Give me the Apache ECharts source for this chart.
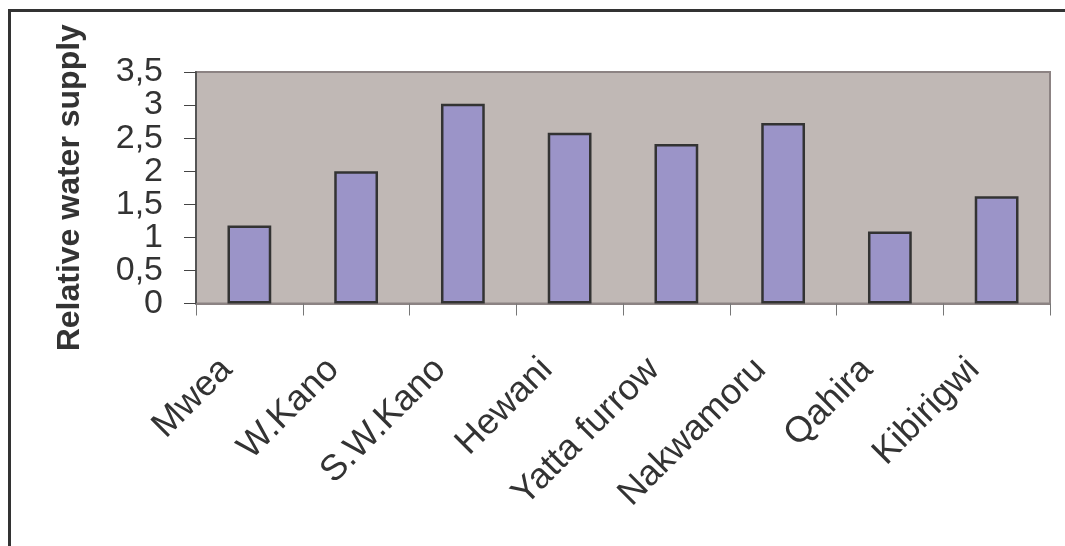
<!DOCTYPE html>
<html>
<head>
<meta charset="utf-8">
<title>Relative water supply</title>
<script src="https://cdn.jsdelivr.net/npm/echarts@6/dist/echarts.min.js"></script>
<style>
  html, body { margin: 0; padding: 0; background: #ffffff; }
  #chart { width: 1065px; height: 546px; }
</style>
</head>
<body>
<div id="chart"></div>
<script>
// Irrigation schemes along the category axis
const schemes = ['Mwea', 'W.Kano', 'S.W.Kano', 'Hewani', 'Yatta furrow', 'Nakwamoru', 'Qahira', 'Kibirigwi'];
// Relative water supply per scheme
const rws = [1.18, 2.0, 3.02, 2.58, 2.41, 2.73, 1.09, 1.62];
// Value axis range
const yMin = 0;
const yMax = 3.5;
const yStep = 0.5;

const font = '"Liberation Sans", Arial, sans-serif';
const chart = echarts.init(document.getElementById('chart'), null, { renderer: 'canvas' });

// The tick labels sit closer together than their font height, so whole-number
// and half-step labels are carried by two stacked copies of the value axis.
const fmt = v => String(v).replace('.', ',');
const isWhole = v => Math.abs(v - Math.round(v)) < 1e-9;

const labelBase = {
  margin: 33,
  fontSize: 34,
  fontFamily: font,
  color: '#333333',
  showMinLabel: true,
  showMaxLabel: true,
  hideOverlap: false
};

chart.setOption({
  backgroundColor: '#ffffff',
  animation: false,
  graphic: [
    // frame lines along the top and left edges
    { type: 'line', silent: true, shape: { x1: 9, y1: 10.5, x2: 1065, y2: 10.5 },
      style: { stroke: '#333333', lineWidth: 3 } },
    { type: 'line', silent: true, shape: { x1: 9.5, y1: 9, x2: 9.5, y2: 546 },
      style: { stroke: '#333333', lineWidth: 3 } }
  ],
  grid: {
    left: 196, right: 15, top: 72, bottom: 242.5,
    show: true,
    backgroundColor: '#c0b8b5',
    borderColor: '#8c8383',
    borderWidth: 2
  },
  xAxis: {
    type: 'category',
    data: schemes,
    boundaryGap: true,
    axisLine: { show: true, lineStyle: { color: '#8c8383', width: 2 } },
    axisTick: { show: true, alignWithLabel: false, length: 12, inside: false,
      lineStyle: { color: '#777777', width: 1 } },
    axisLabel: {
      interval: 0,
      rotate: 45,
      margin: 38,
      padding: [0, 32, 0, 0],
      hideOverlap: false,
      fontSize: 36,
      fontFamily: font,
      color: '#333333'
    },
    splitLine: { show: false }
  },
  yAxis: [
    {
      type: 'value',
      position: 'left',
      min: yMin,
      max: yMax,
      interval: yStep,
      name: 'Relative water supply',
      nameLocation: 'middle',
      nameRotate: 90,
      nameGap: 110,
      nameTextStyle: { fontSize: 32, fontWeight: 'bold', fontFamily: font, color: '#333333' },
      axisLine: { show: true, lineStyle: { color: '#555555', width: 2 } },
      axisTick: { show: true, length: 12, inside: false, lineStyle: { color: '#444444', width: 1 } },
      axisLabel: Object.assign({}, labelBase, { formatter: v => (isWhole(v) ? fmt(v) : '') }),
      splitLine: { show: false }
    },
    {
      type: 'value',
      position: 'left',
      offset: 0,
      min: yMin,
      max: yMax,
      interval: yStep,
      axisLine: { show: false },
      axisTick: { show: false },
      axisLabel: Object.assign({}, labelBase, { formatter: v => (isWhole(v) ? '' : fmt(v)) }),
      splitLine: { show: false }
    }
  ],
  series: [{
    type: 'bar',
    yAxisIndex: 0,
    data: rws,
    barWidth: '41%',
    itemStyle: { color: '#9b94c8', borderColor: '#333333', borderWidth: 2.5 }
  }]
});
</script>
</body>
</html>
